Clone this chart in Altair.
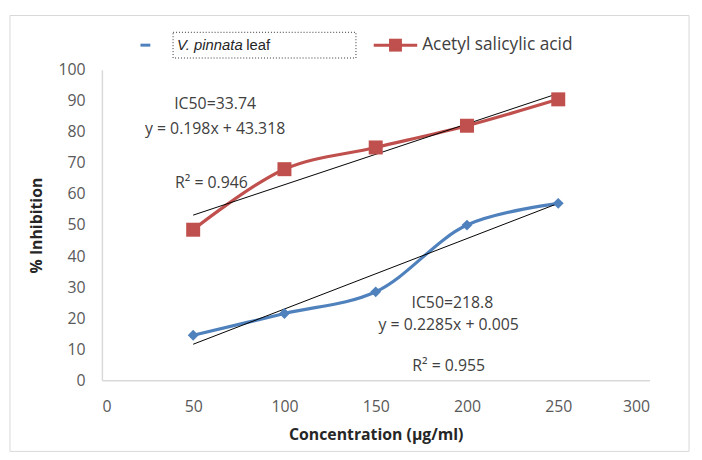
import altair as alt
import pandas as pd

# ---- data ----
conc = [50, 100, 150, 200, 250]
pinnata = [14.5, 21.5, 28.5, 50.0, 57.0]
asa = [48.5, 68.0, 75.0, 82.0, 90.5]
series_names = ["V. pinnata leaf", "Acetyl salicylic acid"]

ann_text = ["IC50=33.74", "y = 0.198x + 43.318", "R\u00b2 = 0.946",
            "IC50=218.8", "y = 0.2285x + 0.005", "R\u00b2 = 0.955"]
ann_x = [62, 62, 60, 192, 190, 190]
ann_y = [88.9, 80.9, 63.4, 24.8, 17.8, 4.5]

df = pd.DataFrame({
    "conc": conc * 2,
    "value": pinnata + asa,
    "series": [series_names[0]] * 5 + [series_names[1]] * 5,
})
ann = pd.DataFrame({"text": ann_text, "x": ann_x, "y": ann_y})
one = pd.DataFrame({"k": [0]})

FONT = "Open Sans"
BLUE = "#4F81BD"
RED = "#C0504D"

xs = alt.Scale(domain=[0, 300], nice=False)
ys = alt.Scale(domain=[0, 100], nice=False)
color = alt.Color("series:N", scale=alt.Scale(domain=series_names, range=[BLUE, RED]), legend=None)


def xaxis():
    return alt.Axis(values=[0, 50, 100, 150, 200, 250, 300],
                    title="Concentration  (\u00b5g/ml)", grid=False, ticks=False, labelPadding=19,
                    titlePadding=12, labelOverlap=False)


def yaxis():
    return alt.Axis(values=list(range(0, 101, 10)),
                    title="% Inhibition", grid=False, ticks=False, labelPadding=17, titlePadding=14,
                    labelOverlap=False)


X = alt.X("conc:Q", scale=xs, axis=xaxis())
Y = alt.Y("value:Q", scale=ys, axis=yaxis())
AX = alt.X("x:Q", scale=xs, axis=xaxis())
AY = alt.Y("y:Q", scale=ys, axis=yaxis())

base = alt.Chart(df)
lines = base.mark_line(interpolate="catmull-rom", strokeWidth=3.2).encode(x=X, y=Y, color=color)
blue_pts = base.transform_filter(alt.datum.series == series_names[0]).mark_point(
    shape="diamond", filled=True, size=120, opacity=1, color=BLUE).encode(x=X, y=Y)
red_pts = base.transform_filter(alt.datum.series == series_names[1]).mark_point(
    shape="square", filled=True, size=200, opacity=1, color=RED).encode(x=X, y=Y)
trend = base.transform_regression("conc", "value", groupby=["series"], extent=[50, 250]).mark_line(
    color="black", strokeWidth=1).encode(x=X, y=Y, detail="series:N")

annot = alt.Chart(ann).mark_text(font=FONT, fontSize=16, color="#404040", align="center",
                                 baseline="middle").encode(x=AX, y=AY, text="text:N")

# ---- manual legend ----
L = alt.Chart(one)
leg_blue = L.mark_rule(color=BLUE, strokeWidth=3).encode(
    x=alt.value(39), x2=alt.value(49), y=alt.value(-25))
leg_box = L.mark_rect(fill="white", fillOpacity=0, stroke="#333333", strokeWidth=1,
                      strokeDash=[1, 2]).encode(
    x=alt.value(72), x2=alt.value(257), y=alt.value(-38), y2=alt.value(-12))
leg_t1 = L.mark_text(font="Liberation Sans", fontSize=15, fontStyle="italic", align="left",
                     baseline="middle", color="#262626").encode(
    x=alt.value(76), y=alt.value(-25), text=alt.value("V. pinnata"))
leg_t2 = L.mark_text(font="Liberation Sans", fontSize=15, align="left",
                     baseline="middle", color="#262626").encode(
    x=alt.value(146), y=alt.value(-25), text=alt.value("leaf"))
leg_red = L.mark_rule(color=RED, strokeWidth=3).encode(
    x=alt.value(275), x2=alt.value(319), y=alt.value(-25))
leg_redsq = L.mark_point(shape="square", filled=True, size=170, opacity=1, color=RED).encode(
    x=alt.value(297), y=alt.value(-25))
leg_t3 = L.mark_text(font=FONT, fontSize=17.5, align="left", baseline="middle",
                     color="#404040").encode(
    x=alt.value(324), y=alt.value(-25), text=alt.value("Acetyl salicylic acid"))

border = L.mark_rect(fill="white", fillOpacity=0, stroke="#d9d9d9", strokeWidth=1).encode(
    x=alt.value(-93), x2=alt.value(594), y=alt.value(-55), y2=alt.value(386))

chart = alt.layer(lines, trend, blue_pts, red_pts, annot, border,
                  leg_blue, leg_box, leg_t1, leg_t2, leg_red, leg_redsq, leg_t3).properties(
    width=554, height=314,
    autosize=alt.AutoSizeParams(type="none"),
    padding={"left": 95, "top": 60, "right": 45, "bottom": 70},
    background="white",
).configure_view(stroke=None).configure_axis(
    domainColor="#d9d9d9", domainWidth=1.5, labelFont=FONT, labelFontSize=16, labelColor="#595959",
    titleFont=FONT, titleFontSize=16, titleFontWeight="bold", titleColor="#262626",
)

chart.save("out.html", embed_options={"renderer": "svg", "actions": False})
